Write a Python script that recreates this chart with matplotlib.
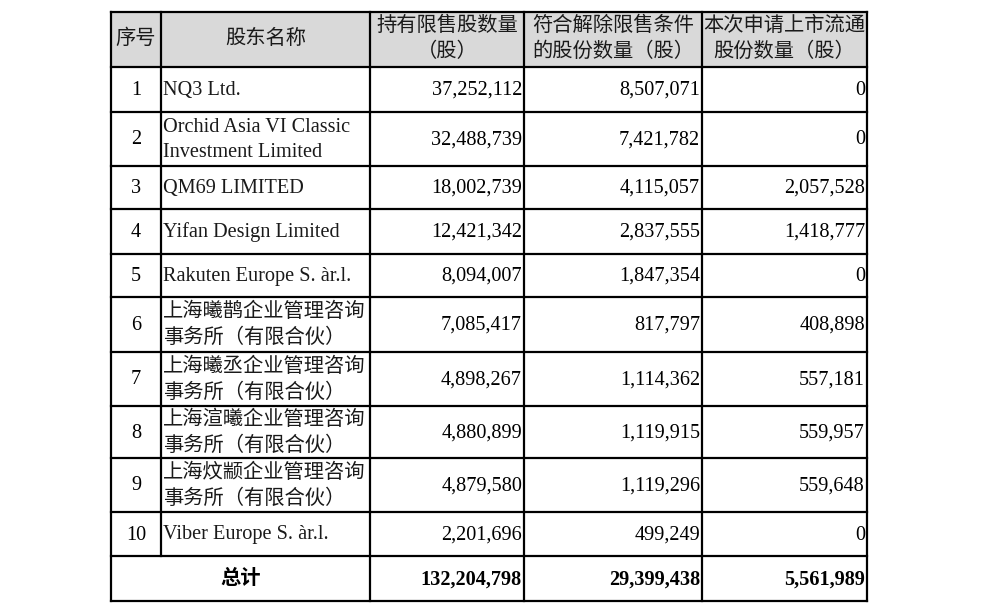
import matplotlib.pyplot as plt
from matplotlib.patches import Rectangle

plt.rcParams['font.family'] = ['Liberation Serif', 'Noto Sans CJK SC', 'DejaVu Sans']

# table content
headers = ['序号', '股东名称', '持有限售股数量\n（股）', '符合解除限售条件\n的股份数量（股）', '本次申请上市流通\n股份数量（股）']
seq = ['1', '2', '3', '4', '5', '6', '7', '8', '9', '10']
names = ['NQ3 Ltd.',
         'Orchid Asia VI Classic\nInvestment Limited',
         'QM69 LIMITED',
         'Yifan Design Limited',
         'Rakuten Europe S. àr.l.',
         '上海曦鹊企业管理咨询\n事务所（有限合伙）',
         '上海曦丞企业管理咨询\n事务所（有限合伙）',
         '上海渲曦企业管理咨询\n事务所（有限合伙）',
         '上海炆颛企业管理咨询\n事务所（有限合伙）',
         'Viber Europe S. àr.l.']
restricted = [37252112, 32488739, 18002739, 12421342, 8094007, 7085417, 4898267, 4880899, 4879580, 2201696]
unlockable = [8507071, 7421782, 4115057, 2837555, 1847354, 817797, 1114362, 1119915, 1119296, 499249]
listed = [0, 0, 2057528, 1418777, 0, 408898, 557181, 559957, 559648, 0]
total_label = '总计'

# grid geometry in pixels
col_x = [111, 161, 370, 524, 702, 867]
row_y = [12, 67, 112, 166, 209, 254, 297, 352, 406, 458, 512, 556, 601]

fig = plt.figure(figsize=(9.81, 6.06), dpi=100)
ax = fig.add_axes([0, 0, 1, 1])
ax.set_xlim(0, 981)
ax.set_ylim(606, 0)
ax.axis('off')

FS = 14.6
lw = 1.6

# header background
ax.add_patch(Rectangle((col_x[0], row_y[0]), col_x[-1] - col_x[0], row_y[1] - row_y[0],
                       facecolor='#d9d9d9', edgecolor='none'))

# horizontal lines
for y in row_y:
    ax.plot([col_x[0], col_x[-1]], [y, y], color='black', lw=lw, solid_capstyle='projecting')
# vertical lines (col 1 boundary doesn't cross the total row)
for i, x in enumerate(col_x):
    y_end = row_y[-2] if i == 1 else row_y[-1]
    ax.plot([x, x], [row_y[0], y_end], color='black', lw=lw, solid_capstyle='projecting')

# header text
hy = (row_y[0] + row_y[1]) / 2
for i, h in enumerate(headers):
    cx = (col_x[i] + col_x[i + 1]) / 2
    ax.text(cx, hy, h, ha='center', va='center', fontsize=FS, linespacing=1.45,
            multialignment='center', color='#1a1a1a')

def fmt(v):
    return f'{v:,}'

for r in range(len(seq)):
    cy = (row_y[r + 1] + row_y[r + 2]) / 2
    ax.text((col_x[0] + col_x[1]) / 2, cy + 1, seq[r], ha='center', va='center', fontsize=FS)
    ax.text(col_x[1] + 2, cy + 1, names[r], ha='left', va='center', fontsize=FS,
            linespacing=1.45, color='#1a1a1a')
    for c, vals in zip([2, 3, 4], [restricted, unlockable, listed]):
        ax.text(col_x[c + 1] - 2, cy + 1, fmt(vals[r]), ha='right', va='center', fontsize=FS)

# total row
ty = (row_y[-2] + row_y[-1]) / 2
ax.text((col_x[0] + col_x[2]) / 2, ty, total_label, ha='center', va='center',
        fontsize=FS, fontweight='bold')
for c, vals in zip([2, 3, 4], [restricted, unlockable, listed]):
    ax.text(col_x[c + 1] - 2, ty + 1, fmt(sum(vals)), ha='right', va='center',
            fontsize=FS, fontweight='bold')

fig.savefig('out.png', dpi=100, facecolor='white')
